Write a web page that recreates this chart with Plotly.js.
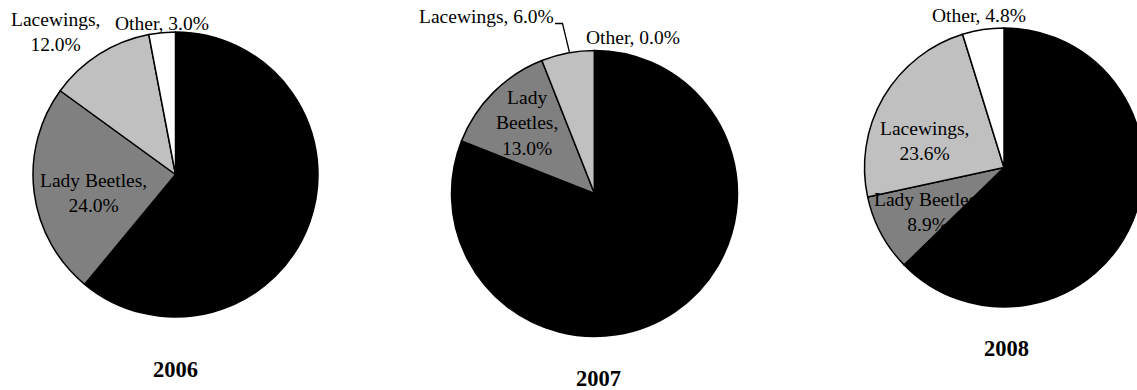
<!DOCTYPE html>
<html>
<head>
<meta charset="utf-8">
<script src="https://cdn.plot.ly/plotly-3.0.1.min.js"></script>
<style>
  html, body { margin: 0; padding: 0; overflow: hidden; background: #fff; }
  #chart { width: 1150px; height: 390px; }
</style>
</head>
<body>
<div id="chart"></div>
<script>
// Predator composition by year (percent of all predators counted)
const categories = ['Minute Pirate Bugs', 'Lady Beetles', 'Lacewings', 'Other'];
const years = ['2006', '2007', '2008'];
const share2006 = [61.0, 24.0, 12.0, 3.0];
const share2007 = [81.0, 13.0, 6.0, 0.0];
const share2008 = [62.7, 8.9, 23.6, 4.8];
const sliceColors = ['#000000', '#808080', '#c0c0c0', '#ffffff'];

const W = 1150, H = 390;
const px = x => x / W;
const py = y => 1 - y / H;

// pie geometry in page pixels: centre and radius
const pies = [
  { values: share2006, cx: 175.5, cy: 174.5, r: 142.5 },
  { values: share2007, cx: 594.5, cy: 193.5, r: 143 },
  { values: share2008, cx: 1004, cy: 167.5, r: 139.5 }
];

const traces = pies.map(p => ({
  type: 'pie',
  labels: categories,
  values: p.values,
  sort: false,
  direction: 'clockwise',
  rotation: 0,
  textinfo: 'none',
  hoverinfo: 'label+percent',
  showlegend: false,
  marker: { colors: sliceColors, line: { color: '#000000', width: 1.5 } },
  domain: {
    x: [px(p.cx - p.r), px(p.cx + p.r)],
    y: [py(p.cy + p.r), py(p.cy - p.r)]
  }
}));

// data label placement: [pie index, category index, x, y, word gaps that become line breaks]
const labelSpots = [
  [0, 1, 93, 193, [1]],
  [0, 2, 55, 32, [0]],
  [0, 3, 162, 23, []],
  [1, 1, 527, 123, [0, 1]],
  [1, 2, 486, 17, []],
  [1, 3, 633, 37, []],
  [2, 1, 927, 212, [1]],
  [2, 2, 924, 140.5, [0]],
  [2, 3, 979, 16, []]
];

function labelText(name, value, breaks) {
  // words of "name, value%" joined by spaces or line breaks
  const words = name.split(' ');
  words[words.length - 1] += ',';
  words.push(value.toFixed(1) + '%');
  let out = words[0];
  for (let i = 1; i < words.length; i++) {
    out += (breaks.includes(i - 1) ? '<br>' : ' ') + words[i];
  }
  return out;
}

const labelFont = { family: 'Liberation Serif, Times New Roman, serif', size: 19.5, color: '#000000' };

const annotations = labelSpots.map(([pi, ci, x, y, br]) => ({
  xref: 'paper', yref: 'paper',
  x: px(x), y: py(y),
  xanchor: 'center', yanchor: 'middle',
  text: labelText(categories[ci], pies[pi].values[ci], br),
  showarrow: false,
  align: 'center',
  font: labelFont
}));

// year captions under each pie
const captionSpots = [[175, 369], [599, 378], [1006, 348]];
years.forEach((yr, i) => {
  annotations.push({
    xref: 'paper', yref: 'paper',
    x: px(captionSpots[i][0]), y: py(captionSpots[i][1]),
    xanchor: 'center', yanchor: 'middle',
    text: '<b>' + yr + '</b>',
    showarrow: false,
    font: { family: 'Liberation Serif, Times New Roman, serif', size: 22.5, color: '#000000' }
  });
});

// leader line from the 2007 Lacewings label to its slice
const shapes = [{
  type: 'path', xref: 'paper', yref: 'paper',
  path: `M ${px(555)} ${py(23.5)} L ${px(562.5)} ${py(23.5)} L ${px(569.5)} ${py(52.5)}`,
  line: { color: '#000000', width: 1.3 }
}];

Plotly.newPlot('chart', traces, {
  width: W, height: H,
  margin: { l: 0, r: 0, t: 0, b: 0 },
  paper_bgcolor: '#ffffff',
  annotations: annotations,
  shapes: shapes
}, { displayModeBar: false, staticPlot: true });
</script>
</body>
</html>
